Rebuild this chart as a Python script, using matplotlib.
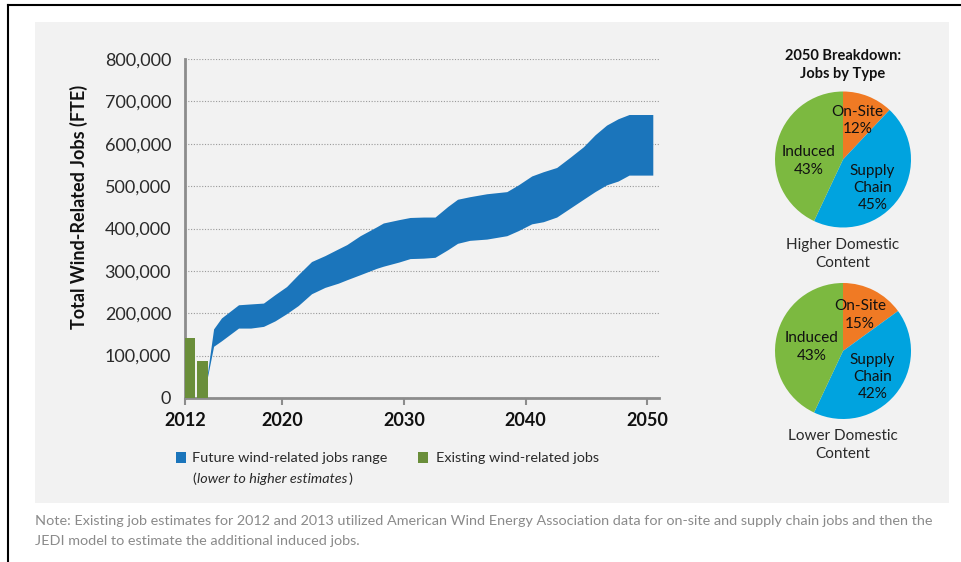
import numpy as np
import matplotlib
matplotlib.use("Agg")
import matplotlib.pyplot as plt
from matplotlib.patches import Rectangle
from matplotlib.lines import Line2D

plt.rcParams['font.family'] = ['Lato', 'DejaVu Sans']

# Future wind-related jobs range (lower to higher estimates)
future_years = [2013.85, 2014.35, 2015.0, 2016.4, 2017.4, 2018.45, 2019.4, 2020.35,
                2021.3, 2022.4, 2023.5, 2024.6, 2025.3, 2026.4, 2027.75, 2028.3,
                2029.6, 2030.5, 2031.6, 2032.55, 2033.6, 2034.4, 2035.4, 2036.8,
                2038.45, 2039.4, 2040.5, 2041.45, 2042.55, 2043.65, 2044.75,
                2045.7, 2046.65, 2047.6, 2048.5, 2050.45]
future_high = [60000, 163000, 189000, 220000, 222000, 224000, 244000, 263000,
               291000, 322000, 336000, 352000, 362000, 383000, 404000, 413000,
               421000, 426000, 427000, 427000, 452000, 469000, 475000, 482000,
               487000, 503000, 524000, 534000, 544000, 568000, 593000,
               621000, 644000, 659000, 669000, 669000]
future_low = [50000, 122000, 135000, 165000, 165000, 169000, 182000, 199000,
              218000, 246000, 261000, 271000, 279000, 291000, 306000, 311000,
              321000, 329000, 330000, 332000, 350000, 365000, 372000, 375000,
              383000, 395000, 411000, 416000, 427000, 448000, 469000,
              487000, 503000, 512000, 526000, 526000]

# Existing wind-related jobs
existing_years = [2012, 2013]
existing_jobs = [142000, 88000]

# 2050 breakdown pies
pie_labels = ['On-Site', 'Supply\nChain', 'Induced']
higher_shares = [12, 45, 43]
lower_shares = [15, 42, 43]

blue = '#1B75BB'
green = '#6A8E3A'
pie_colors = ['#F07A24', '#00A3DF', '#7CB940']
panel = '#F2F2F2'
dark = '#2a2a2a'

W, H = 961, 562
fig = plt.figure(figsize=(W / 100, H / 100), dpi=100)


def fx(px):
    return px / W


def fy(py):
    return 1 - py / H


# outer frame lines and grey panel
fig.add_artist(Line2D([fx(8), fx(8)], [0, fy(5)], color='black', lw=1.5))
fig.add_artist(Line2D([fx(8), 1], [fy(5), fy(5)], color='black', lw=1.5))
fig.add_artist(Rectangle((fx(35), fy(503)), fx(949) - fx(35), fy(22) - fy(503),
                         color=panel, lw=0, zorder=0))

# main chart
ax = fig.add_axes([fx(185), fy(398), fx(659) - fx(185), fy(59) - fy(398)])
ax.patch.set_visible(False)
ax.fill_between(future_years, future_low, future_high, color=blue, lw=0, zorder=3)
ax.bar(existing_years, existing_jobs, width=0.85, align='edge', color=green, lw=0, zorder=3)

ax.set_xlim(2012, 2050.96)
ax.set_ylim(0, 800000)
ax.set_xticks([2012, 2020, 2030, 2040, 2050])
ax.set_yticks(np.arange(0, 800001, 100000))
ax.set_yticklabels(['{:,}'.format(v) for v in range(0, 800001, 100000)])
ax.yaxis.grid(True, linestyle=(0, (1, 1.5)), color='#9a9a9a', lw=0.8, zorder=1)
ax.set_axisbelow(True)
for s in ['top', 'right']:
    ax.spines[s].set_visible(False)
for s in ['left', 'bottom']:
    ax.spines[s].set_color('#8c8c8c')
    ax.spines[s].set_linewidth(2)
ax.tick_params(axis='y', length=0, pad=10, labelsize=13, labelcolor=dark)
ax.tick_params(axis='x', length=5, width=1.5, color='#8c8c8c', pad=5,
               labelsize=13, labelcolor='#111111')
for t in ax.get_xticklabels():
    t.set_fontweight('bold')
ax.set_ylabel('Total Wind-Related Jobs (FTE)', fontsize=13, fontweight='bold',
              color='#111111')
ax.yaxis.set_label_coords(-0.205, 0.563)

# legend
fs_leg = 10.4
fig.add_artist(Rectangle((fx(176), fy(463)), fx(186) - fx(176), fy(452) - fy(463),
                         color=blue, lw=0))
fig.text(fx(192), fy(458), 'Future wind-related jobs range', fontsize=fs_leg,
         color=dark, va='center', ha='left')
p1 = fig.text(fx(192), fy(479), '(', fontsize=fs_leg, color=dark, va='center', ha='left')
fig.canvas.draw()
r = fig.canvas.get_renderer()
x1 = p1.get_window_extent(r).x1
p2 = fig.text(x1 / W + fx(1), fy(479), 'lower to higher estimates', fontsize=fs_leg,
              color=dark, va='center', ha='left', style='italic')
fig.canvas.draw()
x2 = p2.get_window_extent(r).x1
fig.text(x2 / W + fx(1), fy(479), ')', fontsize=fs_leg, color=dark, va='center', ha='left')

fig.add_artist(Rectangle((fx(418), fy(463)), fx(428) - fx(418), fy(452) - fy(463),
                         color=green, lw=0))
fig.text(fx(436), fy(458), 'Existing wind-related jobs', fontsize=fs_leg,
         color=dark, va='center', ha='left')

# pies
fig.text(fx(843), fy(65), '2050 Breakdown:\nJobs by Type', fontsize=10.5,
         fontweight='bold', color='#111111', ha='center', va='center', linespacing=1.3)


def draw_pie(cy, shares, label_pos, caption, cap_y):
    pax = fig.add_axes([fx(843 - 68), fy(cy + 68), fx(136), 136 / H])
    pax.pie(shares, colors=pie_colors, startangle=90, counterclock=False,
            wedgeprops=dict(lw=0))
    pax.set_xlim(-1, 1)
    pax.set_ylim(-1, 1)
    pax.set_aspect('equal')
    pax.axis('off')
    for lab, sh, (lx, ly) in zip(pie_labels, shares, label_pos):
        pax.text(lx, ly, '{}\n{}%'.format(lab, sh), fontsize=11, color='#111111',
                 ha='center', va='center', linespacing=1.3)
    fig.text(fx(843), fy(cap_y), caption, fontsize=11, color=dark,
             ha='center', va='center', linespacing=1.3)


draw_pie(159.5, higher_shares, [(0.21, 0.57), (0.43, -0.42), (-0.51, -0.02)],
         'Higher Domestic\nContent', 254)
draw_pie(351, lower_shares, [(0.25, 0.53), (0.43, -0.38), (-0.46, 0.06)],
         'Lower Domestic\nContent', 445)

# note
fs_note = 10.4
fig.text(fx(35), fy(521), 'Note: Existing job estimates for 2012 and 2013 utilized American '
         'Wind Energy Association data for on-site and supply chain jobs and then the',
         fontsize=fs_note, color='#8a8a8a', ha='left', va='center')
fig.text(fx(35), fy(541), 'JEDI model to estimate the additional induced jobs.',
         fontsize=fs_note, color='#8a8a8a', ha='left', va='center')

fig.savefig('out.png', dpi=100, facecolor='white')
